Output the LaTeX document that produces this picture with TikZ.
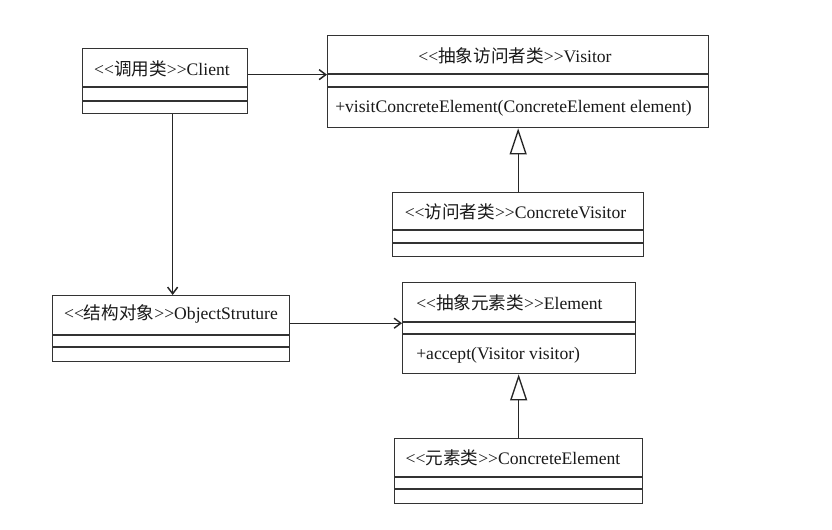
\documentclass[tikz,border=0pt]{standalone}
\usepackage{fontspec}
\setmainfont{Liberation Serif}
\newfontfamily\cjk{Noto Sans CJK SC}
\usetikzlibrary{arrows.meta}
\newcommand{\stl}{<{}<}
\newcommand{\stg}{>{}>}
\begin{document}
\begin{tikzpicture}[x=0.75pt,y=-0.75pt,
  cls/.style={draw=black!80,line width=1pt,inner sep=0pt,anchor=north west},
  sep/.style={draw=black!80,line width=1pt},
  lbl/.style={inner sep=0pt,text=black!90,font=\fontsize{13.2}{15}\selectfont},
  assoc/.style={draw=black!85,line width=1pt,-{Straight Barb[length=5pt,width=7.5pt,line width=1.1pt]}},
  gen/.style={draw=black!85,line width=1pt,-{Triangle[open,length=19.5pt,width=12.75pt]}}]
\useasboundingbox (0,0) rectangle (832,529);
\fill[white] (0,0) rectangle (832,529);
% classes
\node[cls,minimum width=123.75pt,minimum height=48.75pt] (client) at (82,48) {};
\draw[sep] (client.west |- 0,87) -- (client.east |- 0,87);
\draw[sep] (client.west |- 0,101) -- (client.east |- 0,101);
\node[lbl] (clientname) at (162,69) {\stl{\cjk 调用类}\stg Client};

\node[cls,minimum width=285.75pt,minimum height=69pt] (visitor) at (327,35) {};
\draw[sep] (visitor.west |- 0,74) -- (visitor.east |- 0,74);
\draw[sep] (visitor.west |- 0,87) -- (visitor.east |- 0,87);
\node[lbl] (visitorname) at (515,56) {\stl{\cjk 抽象访问者类}\stg Visitor};
\node[lbl,anchor=west] (visitorop) at (335,108) {+visitConcreteElement(ConcreteElement element)};

\node[cls,minimum width=188.25pt,minimum height=48pt] (cvisitor) at (392,192) {};
\draw[sep] (cvisitor.west |- 0,230) -- (cvisitor.east |- 0,230);
\draw[sep] (cvisitor.west |- 0,243) -- (cvisitor.east |- 0,243);
\node[lbl] (cvisitorname) at (515.5,212) {\stl{\cjk 访问者类}\stg ConcreteVisitor};

\node[cls,minimum width=177.75pt,minimum height=49.5pt] (objs) at (52,295) {};
\draw[sep] (objs.west |- 0,335) -- (objs.east |- 0,335);
\draw[sep] (objs.west |- 0,347) -- (objs.east |- 0,347);
\node[lbl] (objsname) at (171,314) {\stl{\cjk 结构对象}\stg ObjectStruture};

\node[cls,minimum width=174.75pt,minimum height=68.25pt] (elem) at (402,282) {};
\draw[sep] (elem.west |- 0,322) -- (elem.east |- 0,322);
\draw[sep] (elem.west |- 0,334) -- (elem.east |- 0,334);
\node[lbl,anchor=west] (elemname) at (416,303) {\stl{\cjk 抽象元素类}\stg Element};
\node[lbl,anchor=west] (elemop) at (416,355) {+accept(Visitor visitor)};

\node[cls,minimum width=186pt,minimum height=48.75pt] (celem) at (394,438) {};
\draw[sep] (celem.west |- 0,477) -- (celem.east |- 0,477);
\draw[sep] (celem.west |- 0,489) -- (celem.east |- 0,489);
\node[lbl] (celemname) at (513,458) {\stl{\cjk 元素类}\stg ConcreteElement};

% connectors
\draw[assoc] ([yshift=4.9pt]client.east) -- ([yshift=4.9pt]client.east -| visitor.west);
\draw[assoc] ([xshift=5.6pt]client.south) -- ([xshift=5.6pt]client.south |- objs.north);
\draw[assoc] ([yshift=4.1pt]objs.east) -- ([yshift=4.1pt]objs.east -| elem.west);
\draw[gen] (cvisitor.north) -- (cvisitor.north |- visitor.south);
\draw[gen] (celem.north) -- (celem.north |- elem.south);
\end{tikzpicture}
\end{document}
